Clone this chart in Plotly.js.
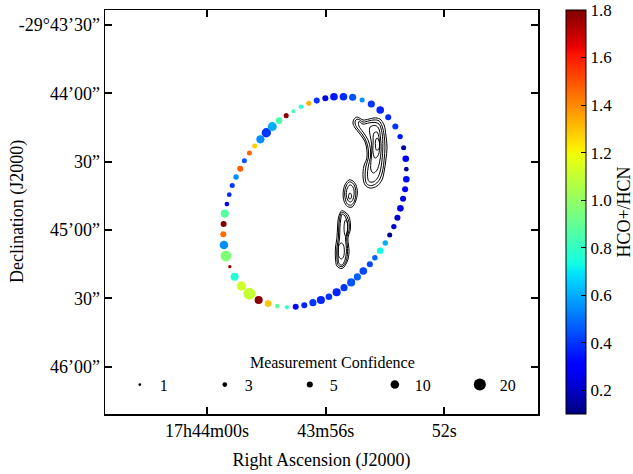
<!DOCTYPE html>
<html>
<head>
<meta charset="utf-8">
<script src="https://cdn.plot.ly/plotly-3.0.1.min.js"></script>
<style>html,body{margin:0;padding:0;background:#fff;}#chart{width:633px;height:474px;}</style>
</head>
<body>
<div id="chart"></div>
<script>
// RA in seconds of time past 17h43m00s; Dec in arcsec offset from -29°43'00"
const raSec = [56.30,56.01,55.72,55.40,55.09,54.77,54.46,54.16,53.89,53.65,53.49,53.37,53.30,53.28,53.28,53.32,53.39,53.48,53.58,53.70,53.84,53.99,54.16,54.34,54.51,54.73,54.93,55.14,55.38,55.63,55.89,56.16,56.43,56.72,57.01,57.31,57.63,57.94,58.26,58.57,58.84,59.07,59.23,59.36,59.43,59.45,59.44,59.40,59.33,59.25,59.15,59.02,58.88,58.74,58.57,58.39,58.20,58.00,57.80,57.57,57.33,57.09,56.83,56.57];
const decArcsec = [-63.2,-62.2,-61.5,-61.5,-61.7,-62.9,-64.7,-67.3,-70.5,-74.6,-79.0,-83.9,-88.7,-93.3,-97.7,-102.1,-106.3,-110.5,-114.6,-118.5,-122.2,-125.7,-129.1,-132.2,-135.0,-138.0,-140.6,-143.0,-145.3,-147.3,-149.3,-150.7,-151.9,-153.0,-153.7,-153.9,-153.4,-152.3,-150.7,-148.0,-144.6,-140.5,-136.1,-131.4,-126.6,-121.9,-117.4,-112.8,-108.6,-104.5,-100.5,-96.7,-93.1,-89.6,-86.2,-83.1,-80.2,-77.3,-74.6,-72.0,-69.8,-67.9,-65.9,-64.4];
const ratio = [0.40,0.25,0.35,0.38,0.45,0.55,0.40,0.37,0.38,0.40,0.35,0.15,0.30,0.12,0.33,0.27,0.25,0.25,0.22,0.22,0.12,0.60,0.73,0.48,0.43,0.43,0.47,0.45,0.40,0.37,0.40,0.37,0.40,0.37,0.32,0.78,0.88,1.30,1.78,1.10,1.12,0.77,1.78,0.96,0.55,1.45,1.80,0.87,0.32,0.38,0.40,0.55,1.48,0.45,1.47,1.28,0.55,0.40,0.60,0.85,1.78,0.83,0.78,1.33];
const confidence = [5,5,8,8,7,3.5,7,8,5,5,4,3.5,6,3,6,5,5,6,5,4,3.5,4,6,4,5,8,7,9,7,9,6,9,7,5,5,2.2,3,6,9,20,12,9,1.5,16,10,5,5,9,3,3,3.5,4,5,3.5,3.5,3.5,9,12,11,6,3.5,2.2,3,3.5];

const legendConf = [1,3,5,10,20];

// contour lines of the emission map (RA s, Dec arcsec)
const contourRA = [
  [55.04,54.94,54.74,54.54,54.37,54.17,54.03,53.97,53.93,53.97,54.03,54.10,54.27,54.50,54.67,54.74,54.71,54.61,54.61,54.67,54.84,55.01,55.08],
  [54.98,54.91,54.74,54.54,54.37,54.20,54.10,54.03,54.00,54.03,54.08,54.17,54.32,54.49,54.62,54.67,54.64,54.56,54.56,54.62,54.77,54.94,55.01],
  [54.88,54.74,54.54,54.34,54.20,54.10,54.07,54.10,54.15,54.25,54.40,54.54,54.59,54.56,54.49,54.49,54.57,54.74,54.88],
  [54.50,54.34,54.22,54.15,54.13,54.18,54.27,54.39,54.47,54.47,54.44,54.47,54.52],
  [54.37,54.27,54.20,54.18,54.24,54.34,54.40,54.40],
  [54.27,54.20,54.18,54.22,54.29,54.32,54.32],
  [55.21,55.08,54.98,54.93,55.00,55.11,55.26,55.38,55.41,55.35],
  [55.20,55.09,55.01,54.98,55.03,55.13,55.25,55.33,55.36,55.31],
  [55.18,55.09,55.04,55.06,55.15,55.23,55.30,55.28],
  [55.18,55.13,55.15,55.20,55.23,55.21],
  [55.46,55.35,55.24,55.17,55.17,55.25,55.23,55.21,55.28,55.45,55.62,55.67,55.67,55.62,55.60,55.57],
  [55.46,55.36,55.28,55.21,55.21,55.29,55.27,55.26,55.31,55.45,55.58,55.62,55.62,55.57,55.56,55.53],
  [55.45,55.38,55.32,55.26,55.26,55.33,55.31,55.30,55.35,55.45,55.55,55.58,55.58,55.53,55.52,55.49],
  [55.33,55.28,55.26,55.28,55.32,55.36,55.38,55.36],
  [55.47,55.40,55.37,55.40,55.47,55.55,55.57,55.55]
];
const contourDec = [
  [-71.3,-70.4,-71.7,-71.3,-70.8,-71.3,-73.9,-78.3,-83.6,-89.3,-94.5,-98.0,-100.7,-101.6,-100.2,-96.7,-91.9,-88.4,-84.9,-81.4,-77.9,-75.2,-73.0],
  [-71.7,-71.3,-72.6,-72.1,-71.7,-72.1,-74.3,-78.3,-83.6,-89.3,-94.1,-97.6,-99.8,-100.5,-99.6,-96.3,-91.9,-88.4,-84.9,-81.4,-77.9,-75.2,-73.0],
  [-72.4,-73.5,-73.0,-72.8,-73.5,-77.4,-83.6,-89.3,-93.6,-97.2,-98.9,-98.7,-95.8,-91.9,-88.0,-84.4,-80.5,-77.0,-74.3],
  [-74.8,-74.1,-75.2,-79.6,-84.9,-90.1,-93.7,-95.0,-93.7,-89.3,-84.9,-80.5,-77.0],
  [-77.4,-77.0,-79.6,-84.0,-87.5,-88.4,-86.2,-81.8],
  [-79.6,-80.9,-82.7,-84.7,-84.9,-83.1,-80.9],
  [-98.0,-98.5,-100.2,-103.8,-107.7,-109.9,-109.7,-107.3,-103.7,-100.2],
  [-98.9,-99.4,-101.1,-104.2,-107.3,-109.0,-108.8,-106.8,-103.7,-100.7],
  [-100.2,-100.9,-102.9,-105.9,-107.7,-107.3,-105.1,-102.0],
  [-103.7,-104.6,-106.2,-106.4,-105.5,-104.2],
  [-111.5,-112.1,-113.4,-116.5,-120.0,-123.5,-126.6,-129.6,-134.0,-136.9,-135.8,-132.3,-127.9,-123.5,-119.1,-114.7],
  [-112.3,-112.7,-114.1,-116.7,-120.0,-123.5,-126.6,-129.6,-133.6,-136.1,-135.3,-132.3,-127.9,-123.5,-119.1,-114.9],
  [-113.1,-113.4,-114.7,-116.9,-120.0,-123.5,-126.6,-129.6,-133.2,-135.4,-134.7,-132.3,-127.9,-123.5,-119.1,-115.2],
  [-115.6,-116.5,-119.1,-121.8,-122.8,-121.8,-119.1,-116.5],
  [-125.7,-126.6,-129.2,-131.8,-132.7,-131.8,-129.2,-126.6]
];

const xTickVals = [60,56,52];
const xTickText = ['17h44m00s','43m56s','52s'];
const yTickVals = [-30,-60,-90,-120,-150,-180];
const yTickText = ['-29°43’30”','44’00”','30”','45’00”','30”','46’00”'];
const cbTicks = [0.2,0.4,0.6,0.8,1.0,1.2,1.4,1.6,1.8];

// matplotlib "jet" segment data
const jetSeg = {
  r: [[0,0],[0.35,0],[0.66,1],[0.89,1],[1,0.5]],
  g: [[0,0],[0.125,0],[0.375,1],[0.64,1],[0.91,0],[1,0]],
  b: [[0,0.5],[0.11,1],[0.34,1],[0.65,0],[1,0]]
};
function segVal(seg, t){
  for(let i=1;i<seg.length;i++){
    if(t<=seg[i][0]){
      const a=seg[i-1], b=seg[i];
      return a[1]+(b[1]-a[1])*(t-a[0])/(b[0]-a[0]);
    }
  }
  return seg[seg.length-1][1];
}
const jet = [];
for(let i=0;i<=100;i++){
  const t=i/100;
  const c=['r','g','b'].map(k=>Math.round(255*segVal(jetSeg[k],t)));
  jet.push([t,'rgb('+c.join(',')+')']);
}
const sizeOf = c => 2.7*Math.sqrt(c);
const FONT = 'Liberation Serif, Times New Roman, serif';

const traces = [];
contourRA.forEach((xs,i)=>{
  const ys = contourDec[i];
  traces.push({
    type:'scatter', mode:'lines',
    x: xs.concat([xs[0]]), y: ys.concat([ys[0]]),
    line:{color:'black', width:1, shape:'spline', smoothing:1},
    showlegend:false, hoverinfo:'skip'
  });
});
traces.push({
  type:'scatter', mode:'markers',
  x: raSec, y: decArcsec,
  marker:{
    size: confidence.map(sizeOf), opacity:1,
    color: ratio, colorscale: jet, cmin:0.1, cmax:1.8,
    line:{width:0},
    colorbar:{
      x:1.0647, xanchor:'left', xpad:0, y:0.5, yanchor:'middle', len:1, lenmode:'fraction', ypad:0,
      thickness:20, outlinewidth:1, outlinecolor:'black',
      tickvals:cbTicks, ticktext:cbTicks.map(v=>v.toFixed(1)),
      ticks:'inside', ticklen:5, tickcolor:'black',
      tickfont:{family:FONT, size:17, color:'black'},
      title:{text:'HCO+/HCN', side:'right', font:{family:FONT, size:18, color:'black'}}
    }
  },
  showlegend:false
});
legendConf.forEach(c=>{
  traces.push({
    type:'scatter', mode:'markers', x:[null], y:[null],
    name:String(c),
    marker:{size:sizeOf(c), color:'black', opacity:1, line:{width:0}},
    showlegend:true
  });
});

const layout = {
  width:633, height:474,
  margin:{l:105, r:95, t:10, b:60, autoexpand:false},
  paper_bgcolor:'white', plot_bgcolor:'white',
  font:{family:FONT, size:18, color:'black'},
  xaxis:{
    range:[63.44,48.84], tickvals:xTickVals, ticktext:xTickText,
    ticks:'inside', ticklen:7, tickwidth:2, tickcolor:'black',
    showline:true, linewidth:1.5, linecolor:'black', mirror:'ticks',
    showgrid:false, zeroline:false,
    tickfont:{family:FONT, size:18},
    title:{text:'Right Ascension (J2000)', font:{family:FONT, size:18}, standoff:13}
  },
  yaxis:{
    range:[-200.77,-23.42], tickvals:yTickVals, ticktext:yTickText,
    ticks:'inside', ticklen:7, tickwidth:2, tickcolor:'black',
    showline:true, linewidth:1.5, linecolor:'black', mirror:'ticks',
    showgrid:false, zeroline:false,
    tickfont:{family:FONT, size:18}
  },
  annotations:[{
    text:'Declination (J2000)', xref:'paper', yref:'paper', x:-0.203, y:0.5,
    xanchor:'center', yanchor:'middle', textangle:-90, showarrow:false,
    font:{family:FONT, size:18, color:'black'}
  }],
  showlegend:true,
  legend:{
    orientation:'h', x:0.525, xanchor:'center', y:0.03, yanchor:'bottom',
    bgcolor:'rgba(0,0,0,0)', borderwidth:0,
    font:{family:FONT, size:16, color:'black'},
    title:{text:'Measurement Confidence', side:'top center', font:{family:FONT, size:16}},
    entrywidth:40, entrywidthmode:'pixels', itemsizing:'trace', tracegroupgap:0
  }
};
Plotly.newPlot('chart', traces, layout, {displayModeBar:false, staticPlot:true});
</script>
</body>
</html>
